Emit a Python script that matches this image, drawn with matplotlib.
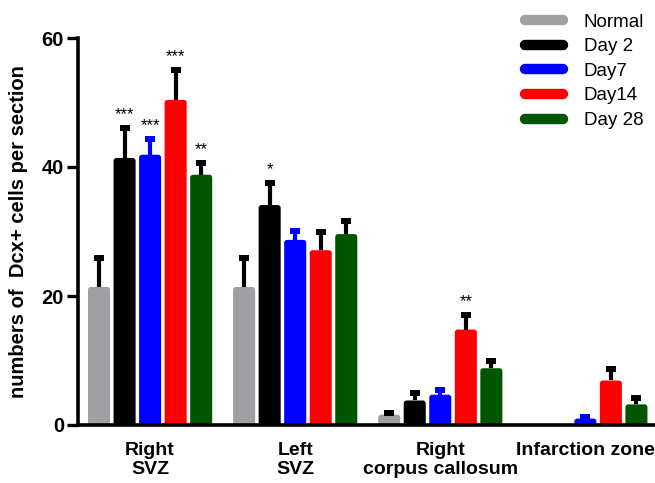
import numpy as np
import matplotlib
matplotlib.use("Agg")
import matplotlib.pyplot as plt
from matplotlib.lines import Line2D
from matplotlib.patches import FancyBboxPatch

plt.rcParams['font.family'] = ['Liberation Sans', 'DejaVu Sans']

# data
groups = ['Right\nSVZ', 'Left\nSVZ', 'Right\ncorpus callosum', 'Infarction zone']
series = ['Normal', 'Day 2', 'Day7', 'Day14', 'Day 28']
colors = ['#a0a0a4', '#000000', '#0000ff', '#ff0000', '#005500']
err_colors = ['#000000', '#000000', '#0000ff', '#000000', '#000000']

normal = [21.4, 21.4, 1.6, 0.0]
day2 = [41.4, 34.1, 3.8, 0.0]
day7 = [41.9, 28.7, 4.7, 1.0]
day14 = [50.4, 27.1, 14.8, 6.9]
day28 = [38.8, 29.6, 8.8, 3.2]

normal_err = [4.5, 4.5, 0.3, 0.0]
day2_err = [4.6, 3.4, 1.1, 0.0]
day7_err = [2.4, 1.4, 0.8, 0.3]
day14_err = [4.6, 2.8, 2.3, 1.8]
day28_err = [1.8, 2.0, 1.2, 1.0]

# significance marks: (group, series index, text)
stars = [(0, 1, '***'), (0, 2, '***'), (0, 3, '***'), (0, 4, '**'),
         (1, 1, '*'), (2, 3, '**')]

values = [normal, day2, day7, day14, day28]
errors = [normal_err, day2_err, day7_err, day14_err, day28_err]

fig = plt.figure(figsize=(6.55, 4.83), dpi=100)
ax = fig.add_axes([78 / 655, 58 / 483, 577 / 655, 387 / 483])

x = np.arange(len(groups))
width = 0.152
step = 0.176

for i, (vals, errs) in enumerate(zip(values, errors)):
    pos = x + (i - 2) * step
    vals = np.array(vals)
    errs = np.array(errs)
    bars = ax.bar(pos, vals, width, color=colors[i])
    for b in bars:
        b.set_visible(False)
        h = b.get_height()
        if h <= 0:
            continue
        # rounded top corners like the original
        p = FancyBboxPatch((b.get_x(), -1), b.get_width(), h + 1,
                           boxstyle="round,pad=0,rounding_size=0.02",
                           mutation_aspect=22.5, fc=colors[i], ec='none',
                           clip_on=True, zorder=2)
        ax.add_patch(p)
    # upper error bar only, square cap
    m = vals > 0
    ax.vlines(pos[m], vals[m], vals[m] + errs[m], color=err_colors[i],
              lw=3.0, zorder=3)
    ax.plot(pos[m], vals[m] + errs[m], ls='none', marker='_', ms=6.5,
            mew=4.3, color=err_colors[i], zorder=3)

for g, s, txt in stars:
    top = values[s][g] + errors[s][g]
    ax.text(x[g] + (s - 2) * step, top + 0.9, txt, ha='center', va='bottom',
            fontsize=12)

ax.set_xlim(-0.497, 3.48)
ax.set_ylim(0, 60)
ax.set_yticks([0, 20, 40, 60])
ax.set_xticks(x)
ax.set_xticklabels(groups, fontsize=14, fontweight='bold', linespacing=1.18)
ax.tick_params(axis='x', length=0, pad=12)
ax.tick_params(axis='y', length=8, width=2.4, labelsize=14.5, pad=2)
for lab in ax.get_yticklabels():
    lab.set_fontweight('bold')
for sp in ['top', 'right']:
    ax.spines[sp].set_visible(False)
ax.spines['left'].set_linewidth(2.6)
ax.spines['bottom'].set_linewidth(2.6)
ax.spines['left'].set_bounds(0, 60)

ax.set_ylabel('numbers of  Dcx+ cells per section', fontsize=14.5,
              fontweight='bold', labelpad=10)

handles = [Line2D([], [], color=c, lw=7.5, solid_capstyle='round', label=s)
           for c, s in zip(colors, series)]
ax.legend(handles=handles, loc='upper right', bbox_to_anchor=(1.01, 1.107),
          frameon=False, fontsize=13.5, handlelength=2.0, handletextpad=1.1,
          labelspacing=0.4)

fig.savefig('out.png', dpi=100)
